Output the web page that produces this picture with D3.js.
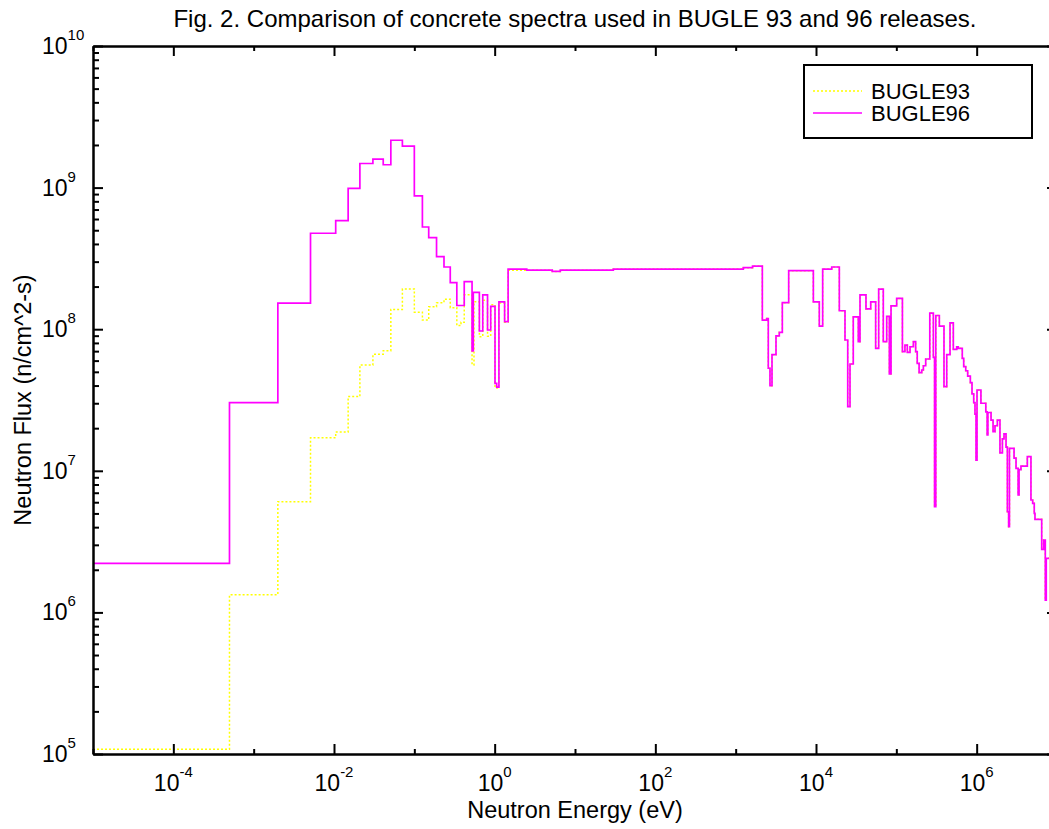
<!DOCTYPE html>
<head>
<meta charset="utf-8">
<style>
  body { margin:0; background:#fff; }
  svg text { font-family: "Liberation Sans", Arial, sans-serif; fill:#000; }
  .axis path, .axis line { stroke:#000; stroke-width:2px; }
</style>
</head>
<body>
<script src="https://d3js.org/d3.v7.min.js"></script>
<script>

var width = 1049,
    height = 829;

var margin = {left: 93, top: 46},
    plotW = 964,
    plotH = 708;

// group lower bounds (eV), last entry is the top of the last group
var energy96 = [1e-5, 5.0e-4, 2.0e-3, 5.1e-3, 1.05e-2, 1.5e-2, 2.1e-2, 3.05e-2, 4.1e-2, 5.1e-2,
  7.1e-2, 0.1, 0.126, 0.151, 0.189, 0.234, 0.28, 0.338, 0.418, 0.523,
  0.542, 0.645, 0.711, 0.815, 0.893, 1.01, 1.06, 1.13, 1.33, 1.47,
  2.51, 5.21, 6.56, 30, 1245, 1622, 2147, 2432, 2547, 2674,
  2833, 3177, 3492, 3808, 4572, 9266, 1.099e4, 1.211e4, 1.57e4, 1.951e4,
  2.296e4, 2.483e4, 2.65e4, 2.91e4, 3.36e4, 3.53e4, 4.19e4, 4.80e4, 5.53e4, 6.03e4,
  6.88e4, 7.59e4, 8.18e4, 8.59e4, 1.01e5, 1.19e5, 1.28e5, 1.37e5, 1.48e5, 1.63e5,
  1.74e5, 1.82e5, 1.92e5, 2.07e5, 2.17e5, 2.32e5, 2.61e5, 2.89e5, 2.99e5, 3.10e5,
  3.43e5, 3.92e5, 4.24e5, 4.66e5, 5.12e5, 5.64e5, 5.90e5, 6.62e5, 6.90e5, 7.31e5,
  7.73e5, 8.34e5, 8.75e5, 9.19e5, 9.53e5, 9.82e5, 1.01e6, 1.13e6, 1.30e6, 1.35e6,
  1.38e6, 1.51e6, 1.60e6, 1.69e6, 1.81e6, 1.95e6, 2.09e6, 2.19e6, 2.32e6, 2.41e6,
  2.50e6, 2.56e6, 2.92e6, 3.09e6, 3.28e6, 3.37e6, 3.56e6, 4.27e6, 4.74e6, 4.98e6,
  5.21e6, 5.32e6, 6.45e6, 6.84e6, 7.15e6, 7.35e6, 1.0e7];

var flux96 = [2.22e6, 3.03e7, 1.53e8, 4.76e8, 5.84e8, 9.89e8, 1.48e9, 1.59e9, 1.45e9, 2.16e9,
  1.96e9, 8.73e8, 5.27e8, 4.43e8, 3.25e8, 2.75e8, 2.13e8, 1.47e8, 2.17e8, 7.02e7,
  1.82e8, 9.71e7, 1.75e8, 9.87e7, 1.45e8, 4.15e7, 3.9e7, 1.56e8, 1.13e8, 2.66e8,
  2.61e8, 2.56e8, 2.61e8, 2.66e8, 2.72e8, 2.79e8, 1.16e8, 1.19e8, 5.30e7, 3.99e7,
  6.61e7, 8.96e7, 9.51e7, 1.54e8, 2.59e8, 1.56e8, 1.05e8, 2.66e8, 2.75e8, 1.35e8,
  8.39e7, 2.84e7, 5.68e7, 1.22e8, 8.16e7, 1.75e8, 1.39e8, 1.56e8, 7.33e7, 1.92e8,
  8.16e7, 1.23e8, 4.83e7, 1.46e8, 1.65e8, 6.94e7, 7.73e7, 6.87e7, 7.52e7, 8.16e7,
  6.94e7, 5.74e7, 4.93e7, 5.15e7, 5.52e7, 6.16e7, 1.30e8, 6.33e7, 5.58e6, 1.25e8,
  1.05e8, 3.93e7, 6.61e7, 1.11e8, 7.21e7, 7.52e7, 7.33e7, 6.23e7, 5.44e7, 5.09e7,
  4.67e7, 4.19e7, 3.49e7, 3.03e7, 2.51e7, 1.19e7, 3.72e7, 3.00e7, 2.61e7, 1.79e7,
  2.58e7, 2.28e7, 1.89e7, 2.08e7, 2.28e7, 1.34e7, 1.68e7, 1.82e7, 1.47e7, 5.14e6,
  4.03e6, 1.44e7, 1.23e7, 1.04e7, 6.75e6, 1.02e7, 1.08e7, 1.26e7, 6.22e6, 5.89e6,
  5.01e6, 4.54e6, 2.79e6, 3.24e6, 1.22e6, 2.41e6];

// BUGLE93 below 2.51 eV; above that it lies on the BUGLE96 curve
var energy93Low = [1e-5, 5.0e-4, 2.0e-3, 5.1e-3, 1.05e-2, 1.5e-2, 2.1e-2, 3.05e-2, 4.1e-2, 5.1e-2,
  7.1e-2, 0.1, 0.126, 0.151, 0.189, 0.234, 0.28, 0.338, 0.381, 0.418,
  0.523, 0.553, 0.645, 0.711, 0.815, 0.893, 1.01, 1.13, 1.33, 1.47];
var flux93Low = [1.08e5, 1.33e6, 6.05e6, 1.71e7, 1.88e7, 3.35e7, 5.59e7, 6.65e7, 7.05e7, 1.38e8,
  1.92e8, 1.32e8, 1.16e8, 1.44e8, 1.54e8, 1.63e8, 1.42e8, 1.06e8, 1.12e8, 1.75e8,
  5.59e7, 1.56e8, 8.85e7, 1.6e8, 8.9e7, 1.49e8, 3.85e7, 1.53e8, 1.12e8, 2.61e8];

var shared = energy96.indexOf(2.51);
var energy93 = energy93Low.concat(energy96.slice(shared));
var flux93 = flux93Low.concat(flux96.slice(shared));

var xLabelExp = [-4, -2, 0, 2, 4, 6];
var xMinorExp = [-5, -3, -1, 1, 3, 5, 7];
var yLabelExp = [5, 6, 7, 8, 9, 10];

var series = [
  {name: "BUGLE93", energy: energy93, flux: flux93, color: "#ffff00", dash: "2,2", w: 1.5},
  {name: "BUGLE96", energy: energy96, flux: flux96, color: "#ff00ff", dash: null, w: 1.7}
];

var x = d3.scaleLog().domain([1e-5, 1e7]).range([0, plotW]);
var y = d3.scaleLog().domain([1e5, 1e10]).range([plotH, 0]);

var svg = d3.select("body").append("svg")
    .attr("width", width)
    .attr("height", height);

svg.append("defs").append("clipPath").attr("id", "clip")
  .append("rect").attr("width", plotW).attr("height", plotH);

var g = svg.append("g")
    .attr("transform", "translate(" + margin.left + "," + margin.top + ")");

var line = d3.line()
    .x(function(d) { return x(d[0]); })
    .y(function(d) { return y(d[1]); })
    .curve(d3.curveStepAfter);

function steps(s) {
  var pts = s.flux.map(function(f, i) { return [s.energy[i], f]; });
  pts.push([s.energy[s.energy.length - 1], s.flux[s.flux.length - 1]]);
  return pts;
}

g.append("g").attr("clip-path", "url(#clip)")
  .selectAll(".spec")
  .data(series).enter()
  .append("path")
    .attr("class", "spec")
    .attr("d", function(d) { return line(steps(d)); })
    .style("fill", "none")
    .style("stroke", function(d) { return d.color; })
    .style("stroke-width", function(d) { return d.w; })
    .style("stroke-dasharray", function(d) { return d.dash; });

// axes: ticks point inward on all four sides
var yMinor = [];
yLabelExp.forEach(function(e) {
  if (e < 10) for (var k = 2; k < 10; k++) yMinor.push(k * Math.pow(10, e));
});
var pow10 = function(e) { return Math.pow(10, e); };

function drawAxis(axis, transform) {
  var a = g.append("g").attr("class", "axis").attr("transform", transform).call(axis);
  a.selectAll("text").remove();
  return a;
}

drawAxis(d3.axisBottom(x).tickValues(xLabelExp.map(pow10)).tickSize(-10).tickSizeOuter(0), "translate(0," + plotH + ")");
drawAxis(d3.axisBottom(x).tickValues(xMinorExp.map(pow10)).tickSize(-5).tickSizeOuter(0), "translate(0," + plotH + ")");
drawAxis(d3.axisTop(x).tickValues(xLabelExp.map(pow10)).tickSize(-10).tickSizeOuter(0), "translate(0,0)");
drawAxis(d3.axisTop(x).tickValues(xMinorExp.map(pow10)).tickSize(-5).tickSizeOuter(0), "translate(0,0)");
drawAxis(d3.axisLeft(y).tickValues(yLabelExp.map(pow10)).tickSize(-10).tickSizeOuter(0), "translate(0,0)");
drawAxis(d3.axisLeft(y).tickValues(yMinor).tickSize(-6).tickSizeOuter(0), "translate(0,0)");
drawAxis(d3.axisRight(y).tickValues(yLabelExp.map(pow10)).tickSize(-10).tickSizeOuter(0), "translate(" + plotW + ",0)");
drawAxis(d3.axisRight(y).tickValues(yMinor).tickSize(-6).tickSizeOuter(0), "translate(" + plotW + ",0)");

// tick labels as 10 with a raised exponent
g.selectAll(".xlab").data(xLabelExp).enter()
  .append("text")
    .attr("class", "xlab")
    .attr("x", function(d) { return x(pow10(d)); })
    .attr("y", plotH + 37)
    .attr("text-anchor", "middle")
    .style("font-size", "23px")
    .each(function(d) {
      var t = d3.select(this);
      t.append("tspan").text("10");
      t.append("tspan").attr("dy", -14).style("font-size", "15px").text(d);
    });

g.selectAll(".ylab").data(yLabelExp).enter()
  .append("text")
    .attr("class", "ylab")
    .attr("x", -51)
    .attr("y", function(d) { return y(pow10(d)) + 8; })
    .style("font-size", "23px")
    .each(function(d) {
      var t = d3.select(this);
      t.append("tspan").text("10");
      t.append("tspan").attr("dy", -14).style("font-size", "15px").text(d);
    });

svg.append("text")
    .attr("x", margin.left + plotW / 2)
    .attr("y", 27)
    .attr("text-anchor", "middle")
    .style("font-size", "24px")
    .text("Fig. 2. Comparison of concrete spectra used in BUGLE 93 and 96 releases.");

svg.append("text")
    .attr("x", margin.left + plotW / 2)
    .attr("y", 818)
    .attr("text-anchor", "middle")
    .style("font-size", "23.5px")
    .text("Neutron Energy (eV)");

svg.append("text")
    .attr("transform", "translate(31," + (margin.top + plotH / 2) + ") rotate(-90)")
    .attr("text-anchor", "middle")
    .style("font-size", "23.5px")
    .text("Neutron Flux (n/cm^2-s)");

// legend
var legend = svg.append("g").attr("transform", "translate(804,65)");
legend.append("rect")
    .attr("width", 228).attr("height", 73)
    .style("fill", "#fff").style("stroke", "#000").style("stroke-width", 2);

var item = legend.selectAll(".item").data(series).enter()
  .append("g")
    .attr("class", "item")
    .attr("transform", function(d, i) { return "translate(0," + (26 + i * 22) + ")"; });

item.append("line")
    .attr("x1", 9).attr("x2", 58)
    .style("stroke", function(d) { return d.color; })
    .style("stroke-width", function(d) { return d.w; })
    .style("stroke-dasharray", function(d) { return d.dash; });

item.append("text")
    .attr("x", 67).attr("y", 8)
    .style("font-size", "22px")
    .text(function(d) { return d.name; });

</script>
</body>
